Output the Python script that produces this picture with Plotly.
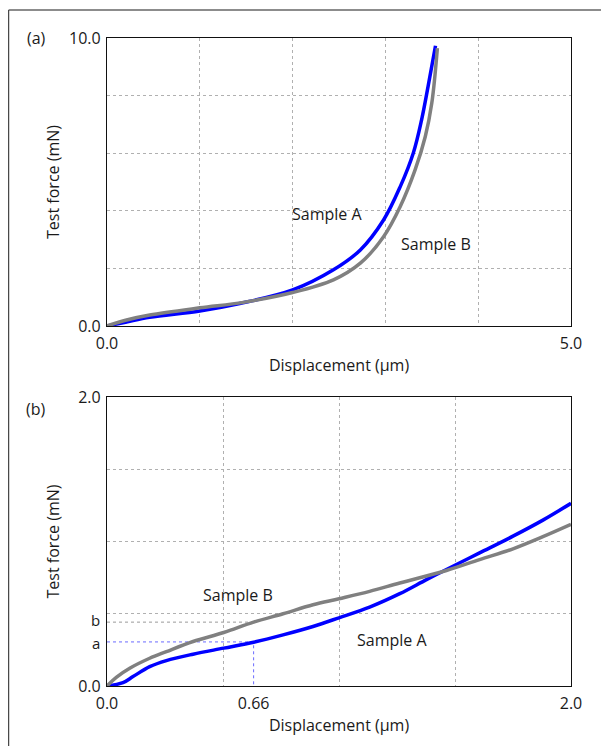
import plotly.graph_objects as go

# ---- Panel (a): full indentation curves ----
a_disp_A = [0.0, 0.2, 0.46, 1.0, 1.43, 2.0, 2.44, 2.73, 2.98, 3.16, 3.30, 3.39, 3.46, 3.54]
a_force_A = [0.0, 0.13, 0.30, 0.52, 0.78, 1.25, 1.95, 2.64, 3.68, 4.84, 6.0, 7.16, 8.32, 9.73]
a_disp_B = [0.0, 0.2, 0.46, 1.0, 1.47, 2.0, 2.44, 2.73, 2.98, 3.16, 3.32, 3.43, 3.50, 3.56]
a_force_B = [0.0, 0.2, 0.38, 0.63, 0.82, 1.16, 1.6, 2.18, 3.1, 4.15, 5.42, 6.58, 7.74, 9.65]

# ---- Panel (b): initial part ----
b_disp_A = [0.0, 0.069, 0.112, 0.184, 0.256, 0.371, 0.503, 0.632, 0.759, 0.888, 1.0,
            1.132, 1.262, 1.377, 1.463, 1.606, 1.75, 1.879, 2.0]
b_force_A = [0.0, 0.023, 0.065, 0.134, 0.176, 0.22, 0.262, 0.303, 0.354, 0.412, 0.472,
             0.546, 0.639, 0.736, 0.806, 0.921, 1.037, 1.148, 1.264]
b_disp_B = [0.0, 0.04, 0.098, 0.184, 0.256, 0.371, 0.503, 0.632, 0.759, 0.888, 1.0,
            1.132, 1.262, 1.463, 1.606, 1.75, 1.879, 2.0]
b_force_B = [0.0, 0.06, 0.123, 0.192, 0.238, 0.308, 0.37, 0.442, 0.5, 0.5625, 0.604,
             0.655, 0.713, 0.799, 0.875, 0.949, 1.033, 1.118]

# reference readings
ref_disp = 0.632
ref_disp_label = "0.66"
force_a = 0.305
force_b = 0.442

# axis ranges / ticks
a_xrange = [0.0, 5.0]
a_yrange = [0.0, 10.0]
b_xrange = [0.0, 2.0]
b_yrange = [0.0, 2.0]
a_xgrid = [1, 2, 3, 4]
a_ygrid = [2, 4, 6, 8]
b_xgrid = [0.5, 1.0, 1.5]
b_ygrid = [0.5, 1.0, 1.5]

BLUE = "#0000ff"
GRAY = "#808080"
FONT = "Open Sans"
TXT = "#1a1a1a"
FS = 16

fig = go.Figure()

fig.add_trace(go.Scatter(x=a_disp_A, y=a_force_A, mode="lines", line=dict(color=BLUE, width=3.5, shape="spline"),
                         xaxis="x", yaxis="y", showlegend=False))
fig.add_trace(go.Scatter(x=a_disp_B, y=a_force_B, mode="lines", line=dict(color=GRAY, width=3.5, shape="spline"),
                         xaxis="x", yaxis="y", showlegend=False))

# reference lines in panel (b)
fig.add_trace(go.Scatter(x=[0, ref_disp], y=[force_b, force_b], mode="lines",
                         line=dict(color="#9a9a9a", width=1, dash="dot"), xaxis="x2", yaxis="y2", showlegend=False))
fig.add_trace(go.Scatter(x=[0, ref_disp, ref_disp], y=[force_a, force_a, 0], mode="lines",
                         line=dict(color="#6a6aff", width=1, dash="dot"), xaxis="x2", yaxis="y2", showlegend=False))

fig.add_trace(go.Scatter(x=b_disp_A, y=b_force_A, mode="lines", line=dict(color=BLUE, width=3.5, shape="spline"),
                         xaxis="x2", yaxis="y2", showlegend=False))
fig.add_trace(go.Scatter(x=b_disp_B, y=b_force_B, mode="lines", line=dict(color=GRAY, width=3.5, shape="spline"),
                         xaxis="x2", yaxis="y2", showlegend=False))

grid_minor = lambda vals: dict(tickvals=vals, showgrid=True, gridcolor="#b0b0b0", gridwidth=1, griddash="dot", ticks="")

axis_common = dict(showline=True, linecolor="#111", linewidth=1.3, mirror=True, showgrid=False,
                   zeroline=False, ticks="", tickfont=dict(family=FONT, size=FS, color=TXT),
                   title_font=dict(family=FONT, size=FS, color=TXT))

fig.update_layout(
    width=601, height=738,
    margin=dict(l=99, r=38, t=30, b=60),
    paper_bgcolor="white", plot_bgcolor="white",
    xaxis=dict(domain=[0, 1], anchor="y", range=a_xrange, tickvals=[0, 5], ticktext=["0.0", "5.0"],
               ticklabelstandoff=3,
               minor=grid_minor(a_xgrid), title=dict(text="Displacement (µm)", standoff=6), **axis_common),
    yaxis=dict(domain=[0.5556, 1.0], anchor="x", range=a_yrange, tickvals=[0, 10], ticktext=["0.0", "10.0"],
               ticklabelstandoff=2,
               minor=grid_minor(a_ygrid), title=dict(text="Test force (mN)", standoff=5), **axis_common),
    xaxis2=dict(domain=[0, 1], anchor="y2", range=b_xrange, tickvals=[0, ref_disp, 2.0],
                ticktext=["0.0", ref_disp_label, "2.0"], ticklabelstandoff=3,
                minor=grid_minor(b_xgrid), title=dict(text="Displacement (µm)", standoff=3), **axis_common),
    yaxis2=dict(domain=[0, 0.446], anchor="x2", range=b_yrange, tickvals=[0, 2.0],
                ticktext=["0.0", "2.0"], ticklabelstandoff=2,
                minor=grid_minor(b_ygrid), title=dict(text="Test force (mN)", standoff=14), **axis_common),
)

ann_font = dict(family=FONT, size=FS, color=TXT)
fig.add_annotation(x=2.37, y=3.89, xref="x", yref="y", text="Sample A", showarrow=False, font=ann_font)
fig.add_annotation(x=3.54, y=2.85, xref="x", yref="y", text="Sample B", showarrow=False, font=ann_font)
fig.add_annotation(x=0.565, y=0.632, xref="x2", yref="y2", text="Sample B", showarrow=False, font=ann_font)
fig.add_annotation(x=1.23, y=0.32, xref="x2", yref="y2", text="Sample A", showarrow=False, font=ann_font)
fig.add_annotation(x=-0.153, y=1.0, xref="paper", yref="paper", text="(a)", showarrow=False, font=ann_font,
                   xanchor="center", yanchor="middle")
fig.add_annotation(x=-0.153, y=0.4275, xref="paper", yref="paper", text="(b)", showarrow=False, font=ann_font,
                   xanchor="center", yanchor="middle")

# a / b force labels on the left of panel (b)
ab_font = dict(family=FONT, size=15, color=TXT)
fig.add_annotation(x=0, y=force_a, xref="x2 domain", yref="y2", text="a", showarrow=False, font=ab_font,
                   xanchor="right", yanchor="middle", xshift=-6, yshift=-1, borderpad=0)
fig.add_annotation(x=0, y=force_b, xref="x2 domain", yref="y2", text="b", showarrow=False, font=ab_font,
                   xanchor="right", yanchor="middle", xshift=-6, yshift=2, borderpad=0)

# outer frame (top and left edges)
fig.add_shape(type="line", xref="paper", yref="paper", x0=-0.212, x1=1.1, y0=1.0432, y1=1.0432,
              line=dict(color="#666", width=1.5))
fig.add_shape(type="line", xref="paper", yref="paper", x0=-0.212, x1=-0.212, y0=1.0432, y1=-0.12,
              line=dict(color="#444", width=1.2))

fig.write_html("out.html")
